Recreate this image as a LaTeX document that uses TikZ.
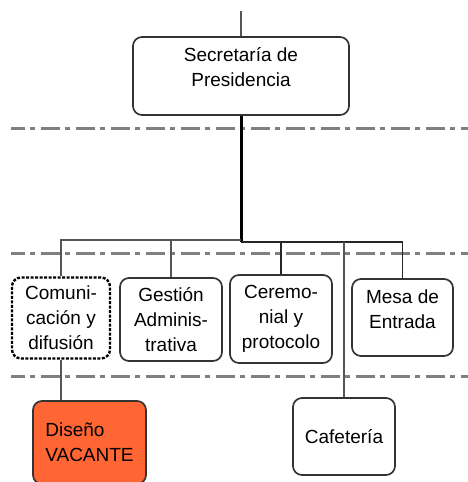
\documentclass[tikz,border=0pt]{standalone}
\usepackage{fontspec}
\setmainfont{Liberation Sans}
\usepackage{tikz}
\usetikzlibrary{calc}
\definecolor{naranja}{RGB}{255,102,51}
\definecolor{linea}{RGB}{85,85,85}
\definecolor{corte}{RGB}{128,128,128}

\begin{document}
\begin{tikzpicture}[x=1pt,y=-1pt]
                      \tikzstyle{caja}=[rounded corners=9pt,draw=black!80,line width=1.7pt,fill=white,inner sep=0pt,align=center,font=\fontsize{19}{25}\selectfont]
                      \tikzstyle{conn}=[draw=linea,line width=1.5pt]
                      \tikzstyle{nivel}=[draw=corte,line width=3pt,dash pattern=on 19pt off 5pt on 5pt off 6pt,dash phase=5pt]
                      \useasboundingbox (0,0) rectangle (468,482);
                      \node[caja,minimum width=216pt,minimum height=78pt,text depth=18pt] (sec) at (241,76) {Secretaría de\\Presidencia};
                      \node[caja,draw=black,dash pattern=on 3pt off 1.5pt,line width=2.4pt,minimum width=98pt,minimum height=81pt] (com) at (61,318) {Comuni-\\cación y\\difusión};
                      \node[caja,minimum width=102pt,minimum height=83pt] (ges) at (171,319.5) {Gestión\\Adminis-\\trativa};
                      \node[caja,minimum width=102pt,minimum height=88pt] (cer) at (281,319) {Ceremo-\\nial y\\protocolo};
                      \node[caja,minimum width=101pt,minimum height=77pt,text depth=16pt] (mes) at (402.5,317.5) {Mesa de\\Entrada};
                      \node[caja,minimum width=102pt,minimum height=77pt] (caf) at (344,436.5) {Cafetería};
                      \node[caja,fill=naranja,align=left,minimum width=113pt,minimum height=83pt] (dis) at (89.5,442.5) {Diseño\\VACANTE};
                      \coordinate (top) at (241,11);
                      \coordinate (j1) at (241,240);
                      \coordinate (j2) at (241,242);
                      % niveles
                      \draw[nivel] (11,128) -- (468,128);
                      \draw[nivel] (11,253) -- (468,253);
                      \draw[nivel] (11,376) -- (468,376);
                      % lineas
                      \draw[conn] (top) -- (sec.north);
                      \draw[line width=3pt] (sec.south) -- (j2);
                      \draw[conn] (com.north) |- (j1);
                      \draw[conn] (ges.north) -- (ges.north |- j1);
                      \draw[conn,draw=black!85] (j2) -| (mes.north);
                      \draw[conn,draw=black!85] (cer.north) -- (cer.north |- j2);
                      \draw[conn] (caf.north) -- (caf.north |- j2);
                      \draw[conn] (com.south) -- (com.south |- dis.north);
                  \end{tikzpicture}
\end{document}
